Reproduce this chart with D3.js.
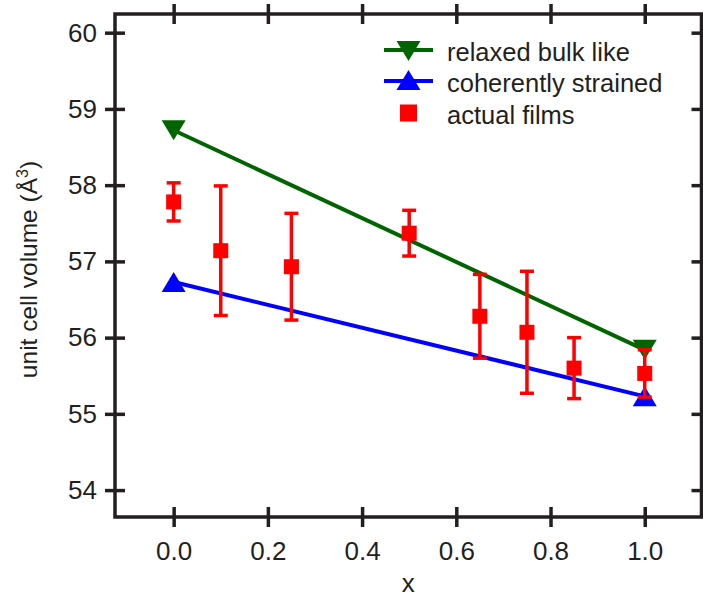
<!DOCTYPE html>
<html>
<head>
<meta charset="utf-8">
<script src="https://cdn.jsdelivr.net/npm/d3@7"></script>
<style>
  html, body { margin: 0; padding: 0; background: #fff; }
  svg { display: block; }
  text { font-family: "Liberation Sans", Arial, Helvetica, sans-serif; fill: #231f20; }
</style>
</head>
<body>
<svg id="chart" width="703" height="597"></svg>
<script>
// Composition x and unit cell volume (Å^3)
const relaxedX = [0.0, 1.0];
const relaxedV = [58.72, 55.84];
const strainedX = [0.0, 1.0];
const strainedV = [56.73, 55.23];
const filmX   = [0.0,   0.1,   0.25,  0.5,   0.65,  0.75,  0.85,  1.0];
const filmV   = [57.78, 57.14, 56.93, 57.37, 56.28, 56.07, 55.60, 55.53];
const filmErr = [0.25,  0.85,  0.70,  0.30,  0.55,  0.80,  0.40,  0.31];
const xTicks = [0.0, 0.2, 0.4, 0.6, 0.8, 1.0];
const yTicks = [54, 55, 56, 57, 58, 59, 60];
const legendLabels = ["relaxed bulk like", "coherently strained", "actual films"];

const GREEN = "#006400", BLUE = "#0000ff", RED = "#ff0000", INK = "#231f20";

const svg = d3.select("#chart");
const plot = { left: 115, right: 701.5, top: 14, bottom: 517 };

const x = d3.scaleLinear().domain([-0.1245, 1.1205]).range([plot.left, plot.right]);
const y = d3.scaleLinear().domain([53.647, 60.245]).range([plot.bottom, plot.top]);

const fontSize = 26;
const tickLen = 10;

// Frame
svg.append("rect")
  .attr("x", plot.left).attr("y", plot.top)
  .attr("width", plot.right - plot.left).attr("height", plot.bottom - plot.top)
  .attr("fill", "none").attr("stroke", INK).attr("stroke-width", 3.5);

// Axes with ticks crossing the frame
function styleAxis(g) {
  g.select(".domain").remove();
  g.selectAll(".tick line").attr("stroke", INK).attr("stroke-width", 3.5);
  g.selectAll(".tick text").style("font-size", fontSize + "px").attr("fill", INK);
}

const bottomAxis = svg.append("g")
  .attr("transform", `translate(0,${plot.bottom})`)
  .call(d3.axisBottom(x).tickValues(xTicks).tickFormat(d3.format(".1f")).tickSize(tickLen).tickPadding(15));
styleAxis(bottomAxis);
bottomAxis.selectAll(".tick line").attr("y1", -tickLen);

const topAxis = svg.append("g")
  .attr("transform", `translate(0,${plot.top})`)
  .call(d3.axisTop(x).tickValues(xTicks).tickFormat("").tickSize(tickLen));
styleAxis(topAxis);
topAxis.selectAll(".tick line").attr("y1", tickLen);

const leftAxis = svg.append("g")
  .attr("transform", `translate(${plot.left},0)`)
  .call(d3.axisLeft(y).tickValues(yTicks).tickFormat(d3.format("d")).tickSize(tickLen).tickPadding(8));
styleAxis(leftAxis);
leftAxis.selectAll(".tick line").attr("x1", tickLen);

const rightAxis = svg.append("g")
  .attr("transform", `translate(${plot.right},0)`)
  .call(d3.axisRight(y).tickValues(yTicks).tickFormat("").tickSize(tickLen));
styleAxis(rightAxis);
rightAxis.selectAll(".tick line").attr("x1", -tickLen);

// Axis titles
svg.append("text")
  .attr("x", (plot.left + plot.right) / 2).attr("y", 592)
  .attr("text-anchor", "middle").style("font-size", fontSize + "px")
  .text("x");

const yTitle = svg.append("text")
  .attr("transform", `translate(37,${(plot.top + plot.bottom) / 2 + 4}) rotate(-90)`)
  .attr("text-anchor", "middle").style("font-size", "24.5px");
yTitle.append("tspan").text("unit cell volume (Å");
yTitle.append("tspan").attr("dy", -9).style("font-size", "16px").text("3");
yTitle.append("tspan").attr("dy", 9).text(")");

// Marker shapes
const triW = 24, triH = 20;
function triangle(cx, cy, down) {
  const h = down ? -triH / 2 : triH / 2;
  return `M${cx - triW / 2},${cy + h}L${cx + triW / 2},${cy + h}L${cx},${cy - h}Z`;
}

const line = d3.line().x(d => x(d[0])).y(d => y(d[1]));

function drawModel(xs, vs, color, down) {
  const pts = xs.map((d, i) => [d, vs[i]]);
  svg.append("path").datum(pts)
    .attr("d", line).attr("fill", "none").attr("stroke", color).attr("stroke-width", 4);
  svg.selectAll(null).data(pts).enter().append("path")
    .attr("d", d => triangle(x(d[0]), y(d[1]), down))
    .attr("fill", color);
}

drawModel(relaxedX, relaxedV, GREEN, true);
drawModel(strainedX, strainedV, BLUE, false);

// Measured films with error bars
const films = filmX.map((d, i) => ({ x: d, v: filmV[i], e: filmErr[i] }));
const capW = 14, sq = 15, ebW = 3.5;
const fg = svg.append("g");
const bar = fg.selectAll("g").data(films).enter().append("g");
bar.append("line")
  .attr("x1", d => x(d.x)).attr("x2", d => x(d.x))
  .attr("y1", d => y(d.v + d.e)).attr("y2", d => y(d.v - d.e))
  .attr("stroke", RED).attr("stroke-width", ebW);
bar.append("line")
  .attr("x1", d => x(d.x) - capW / 2).attr("x2", d => x(d.x) + capW / 2)
  .attr("y1", d => y(d.v + d.e)).attr("y2", d => y(d.v + d.e))
  .attr("stroke", RED).attr("stroke-width", ebW);
bar.append("line")
  .attr("x1", d => x(d.x) - capW / 2).attr("x2", d => x(d.x) + capW / 2)
  .attr("y1", d => y(d.v - d.e)).attr("y2", d => y(d.v - d.e))
  .attr("stroke", RED).attr("stroke-width", ebW);
bar.append("rect")
  .attr("x", d => x(d.x) - sq / 2).attr("y", d => y(d.v) - sq / 2)
  .attr("width", sq).attr("height", sq).attr("fill", RED);

// Legend
const legend = svg.append("g");
const lgX0 = 384, lgX1 = 433, lgMid = 408.5, lgText = 447;
const rows = [50, 81, 113];

legend.append("line").attr("x1", lgX0).attr("x2", lgX1).attr("y1", rows[0]).attr("y2", rows[0])
  .attr("stroke", GREEN).attr("stroke-width", 4);
legend.append("path").attr("d", triangle(lgMid, rows[0] + 1, true)).attr("fill", GREEN);

legend.append("line").attr("x1", lgX0).attr("x2", lgX1).attr("y1", rows[1]).attr("y2", rows[1])
  .attr("stroke", BLUE).attr("stroke-width", 4);
legend.append("path").attr("d", triangle(lgMid, rows[1] - 1, false)).attr("fill", BLUE);

legend.append("rect").attr("x", lgMid - 8.5).attr("y", rows[2] - 8.5)
  .attr("width", 17).attr("height", 17).attr("fill", RED);

legend.selectAll("text.lg").data(legendLabels).enter().append("text")
  .attr("class", "lg")
  .attr("x", lgText).attr("y", (d, i) => rows[i] + 11)
  .style("font-size", "25.5px")
  .text(d => d);
</script>
</body>
</html>
